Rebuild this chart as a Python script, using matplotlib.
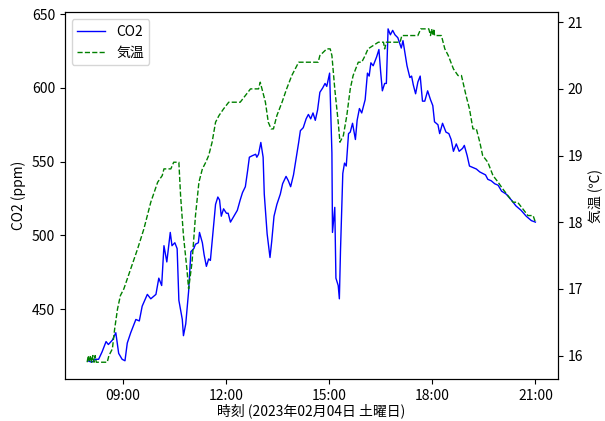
"""CO2 concentration and room temperature over one day (2023-02-04)."""

import matplotlib

matplotlib.use("Agg")

import matplotlib.dates as mdates
import matplotlib.pyplot as plt
import pandas as pd

plt.rcParams["font.family"] = ["Noto Sans CJK JP", "DejaVu Sans"]
plt.rcParams["font.size"] = 10

DAY = "2023-02-04"

# CO2 readings (ppm)
co2_times = [
    "07:59", "08:06", "08:12", "08:18", "08:24", "08:31", "08:35", "08:42", "08:48", "08:53",
    "08:59", "09:04", "09:08", "09:14", "09:23", "09:29", "09:34", "09:43", "09:49", "09:58",
    "10:03", "10:08", "10:12", "10:17", "10:23", "10:26", "10:31", "10:35", "10:38", "10:44",
    "10:46", "10:50", "10:55", "10:59", "11:04", "11:07", "11:12", "11:14", "11:19", "11:22",
    "11:26", "11:30", "11:33", "11:39", "11:42", "11:46", "11:49", "11:52", "11:56", "12:01",
    "12:04", "12:08", "12:14", "12:20", "12:25", "12:29", "12:34", "12:38", "12:41", "12:46",
    "12:52", "12:54", "12:57", "13:01", "13:05", "13:07", "13:12", "13:17", "13:20", "13:24",
    "13:29", "13:35", "13:39", "13:45", "13:49", "13:53", "13:58", "14:03", "14:07", "14:10",
    "14:15", "14:20", "14:24", "14:28", "14:32", "14:36", "14:40", "14:44", "14:49", "14:53",
    "14:56", "15:01", "15:05", "15:06", "15:10", "15:12", "15:16", "15:18", "15:20", "15:24",
    "15:27", "15:30", "15:34", "15:37", "15:41", "15:46", "15:49", "15:53", "15:57", "16:03",
    "16:07", "16:10", "16:13", "16:17", "16:23", "16:27", "16:30", "16:33", "16:37", "16:40",
    "16:43", "16:47", "16:51", "16:55", "17:00", "17:06", "17:09", "17:16", "17:21", "17:24",
    "17:27", "17:31", "17:35", "17:39", "17:43", "17:47", "17:52", "17:57", "18:01", "18:04",
    "18:10", "18:13", "18:18", "18:24", "18:29", "18:33", "18:37", "18:42", "18:47", "18:53",
    "18:56", "19:01", "19:05", "19:11", "19:17", "19:23", "19:28", "19:33", "19:37", "19:43",
    "19:49", "19:55", "20:01", "20:09", "20:18", "20:26", "20:35", "20:44", "20:53", "21:00",
]
co2_ppm = [
    415, 414, 416, 416, 421, 428, 426, 429, 434, 420,
    416, 415, 427, 434, 443, 442, 452, 460, 457, 460,
    471, 466, 493, 482, 502, 493, 495, 491, 456, 443,
    432, 440, 462, 489, 491, 494, 495, 502, 495, 487,
    479, 484, 483, 508, 521, 526, 524, 513, 518, 515,
    515, 509, 513, 517, 524, 529, 533, 544, 553, 554,
    555, 553, 555, 563, 553, 528, 501, 485, 496, 513,
    521, 528, 535, 540, 537, 533, 541, 553, 563, 571,
    573, 579, 582, 579, 583, 578, 585, 597, 600, 603,
    601, 610, 556, 502, 519, 471, 466, 457, 490, 542,
    549, 547, 569, 570, 576, 565, 578, 586, 583, 592,
    610, 608, 617, 615, 621, 626, 611, 598, 603, 603,
    640, 636, 639, 636, 634, 627, 632, 615, 607, 608,
    602, 596, 604, 608, 591, 591, 598, 592, 588, 577,
    575, 569, 576, 570, 569, 565, 557, 562, 557, 559,
    561, 554, 547, 546, 545, 543, 542, 541, 538, 537,
    535, 534, 530, 528, 524, 520, 517, 513, 510, 509,
]

# Temperature readings (deg C, 0.1 resolution)
temp_times = [
    "07:58", "08:00", "08:02", "08:04", "08:06", "08:08", "08:10", "08:12", "08:14", "08:16",
    "08:33", "08:36", "08:42", "08:46", "08:51", "08:56", "09:02", "09:14", "09:26", "09:37",
    "09:49", "10:01", "10:09", "10:12", "10:24", "10:29", "10:38", "10:41", "10:46", "10:52",
    "10:55", "11:01", "11:07", "11:13", "11:19", "11:25", "11:30", "11:36", "11:42", "11:48",
    "11:56", "12:05", "12:25", "12:34", "12:43", "12:57", "13:00", "13:03", "13:09", "13:14",
    "13:19", "13:23", "13:29", "13:38", "13:46", "13:55", "14:01", "14:07", "14:41", "14:44",
    "14:56", "15:02", "15:05", "15:10", "15:16", "15:19", "15:25", "15:31", "15:37", "15:42",
    "15:51", "15:57", "16:03", "16:08", "16:26", "16:35", "16:37", "16:40", "17:04", "17:07",
    "17:35", "17:40", "17:54", "17:57", "17:59", "18:01", "18:03", "18:04", "18:16", "18:22",
    "18:28", "18:37", "18:45", "18:51", "18:59", "19:05", "19:11", "19:17", "19:23", "19:28",
    "19:37", "19:46", "19:55", "20:03", "20:12", "20:21", "20:29", "20:38", "20:47", "20:56",
    "21:00",
]
temp_c = [
    15.9, 16.0, 15.9, 16.0, 15.9, 16.0, 15.9, 16.0, 15.9, 15.9,
    15.9, 16.0, 16.1, 16.4, 16.7, 16.9, 17.0, 17.3, 17.6, 17.9,
    18.3, 18.6, 18.7, 18.8, 18.8, 18.9, 18.9, 18.4, 17.8, 17.3,
    17.0, 17.4, 18.1, 18.6, 18.8, 18.9, 19.0, 19.2, 19.5, 19.6,
    19.7, 19.8, 19.8, 19.9, 20.0, 20.0, 20.1, 20.0, 19.8, 19.5,
    19.4, 19.4, 19.6, 19.8, 20.0, 20.2, 20.3, 20.4, 20.4, 20.5,
    20.6, 20.6, 20.5, 20.0, 19.5, 19.2, 19.3, 19.6, 20.0, 20.2,
    20.4, 20.4, 20.5, 20.6, 20.7, 20.7, 20.6, 20.7, 20.7, 20.8,
    20.8, 20.9, 20.9, 20.8, 20.9, 20.8, 20.9, 20.8, 20.8, 20.6,
    20.5, 20.3, 20.2, 20.2, 19.9, 19.7, 19.4, 19.4, 19.2, 19.0,
    18.9, 18.7, 18.6, 18.5, 18.4, 18.3, 18.3, 18.2, 18.1, 18.1,
    18.0,
]


def to_datetime(times):
    return pd.to_datetime([f"{DAY} {t}" for t in times])


fig, ax = plt.subplots(figsize=(6.05, 4.21), dpi=100)
fig.subplots_adjust(left=0.107, right=0.922, bottom=0.1, top=0.971)

l1, = ax.plot(to_datetime(co2_times), co2_ppm, color="blue", linewidth=1.0, label="CO2")
ax.set_ylabel("CO2 (ppm)")
ax.set_xlabel("時刻 (2023年02月04日 土曜日)", labelpad=0.5)

ax2 = ax.twinx()
l2, = ax2.plot(to_datetime(temp_times), temp_c, color="green", linestyle="--",
               linewidth=1.0, label="気温")
ax2.set_ylabel("気温 (℃)")

ax.xaxis.set_major_locator(mdates.HourLocator(byhour=[9, 12, 15, 18, 21]))
ax.xaxis.set_major_formatter(mdates.DateFormatter("%H:%M"))

ax.legend(handles=[l1, l2], loc="upper left")

fig.savefig("out.png", dpi=100)
